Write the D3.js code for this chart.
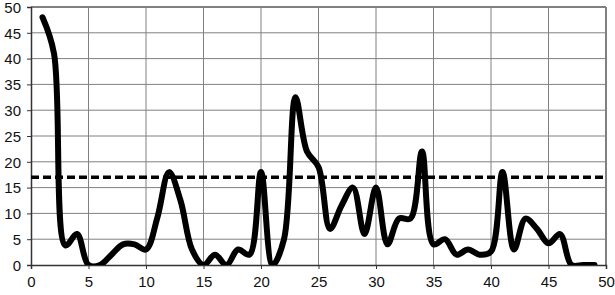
<!DOCTYPE html>
<html>
<head>
<meta charset="utf-8">
<script src="https://cdn.jsdelivr.net/npm/d3@7"></script>
<style>
  body { margin: 0; background: #fff; }
  svg { display: block; font-family: "Liberation Sans", Arial, sans-serif; }
</style>
</head>
<body>
<svg id="chart"></svg>
<script>
// values
const xValues = [1, 2, 3, 4, 5, 6, 7, 8, 9, 10, 11, 12, 13, 14, 15, 16, 17, 18, 19, 20,
  21, 22, 23, 24, 25, 26, 27, 28, 29, 30, 31, 32, 33, 34, 35, 36, 37, 38, 39, 40,
  41, 42, 43, 44, 45, 46, 47, 48, 49];
const yValues = [48, 41, 3.8, 6, 0, 0, 2, 4, 4, 3, 9.3, 18, 12.5, 3, 0, 2, 0, 3, 2, 18,
  0, 5, 32.5, 22, 19, 7, 11.5, 15, 6, 15, 4, 9, 9, 22, 4, 5, 2, 3, 2, 2.6,
  18, 3, 9, 7, 4.2, 6, 0, 0, 0];
const thresholdValue = 17;
const xTicks = [0, 5, 10, 15, 20, 25, 30, 35, 40, 45, 50];
const yTicks = [0, 5, 10, 15, 20, 25, 30, 35, 40, 45, 50];

const width = 615, height = 295;
const margin = { top: 7, right: 9, bottom: 30, left: 31 };
const iwidth = width - margin.left - margin.right;
const iheight = height - margin.top - margin.bottom;

const svg = d3.select('#chart').attr('width', width).attr('height', height);

const x = d3.scaleLinear().domain([0, 50]).range([0, iwidth]);
const y = d3.scaleLinear().domain([0, 50]).range([iheight, 0]);

const g = svg.append('g').attr('transform', `translate(${margin.left},${margin.top})`);

svg.append('defs').append('clipPath').attr('id', 'plot-clip')
  .append('rect').attr('x', 0).attr('y', -4).attr('width', iwidth).attr('height', iheight + 4);

// gridlines
g.append('g').selectAll('line').data(xTicks.slice(1, -1)).enter().append('line')
  .attr('x1', d => x(d)).attr('x2', d => x(d))
  .attr('y1', 0).attr('y2', iheight)
  .attr('stroke', '#808080').attr('stroke-width', 1);
g.append('g').selectAll('line').data(yTicks.slice(1, -1)).enter().append('line')
  .attr('x1', 0).attr('x2', iwidth)
  .attr('y1', d => y(d)).attr('y2', d => y(d))
  .attr('stroke', '#808080').attr('stroke-width', 1);

// plot frame (top / right)
g.append('line').attr('x1', 0).attr('x2', iwidth).attr('y1', y(50)).attr('y2', y(50))
  .attr('stroke', '#808080').attr('stroke-width', 2);
g.append('line').attr('x1', x(50)).attr('x2', x(50)).attr('y1', 0).attr('y2', iheight)
  .attr('stroke', '#808080').attr('stroke-width', 2);

// axes
const xAxis = g.append('g')
  .attr('transform', `translate(0,${iheight})`)
  .call(d3.axisBottom(x).tickValues(xTicks).tickSize(4).tickPadding(7));
const yAxis = g.append('g')
  .call(d3.axisLeft(y).tickValues(yTicks).tickSize(4).tickPadding(6));
[xAxis, yAxis].forEach(a => {
  a.select('.domain').attr('stroke', '#333').attr('stroke-width', 1.5);
  a.selectAll('.tick line').attr('stroke', '#333');
  a.selectAll('.tick text').attr('fill', '#111')
    .style('font-size', '15px').style('font-family', '"Liberation Sans", Arial, sans-serif');
});
yAxis.selectAll('.tick text').attr('dy', '0.35em');

// threshold line
g.append('line')
  .attr('x1', x(0)).attr('x2', x(50))
  .attr('y1', y(thresholdValue)).attr('y2', y(thresholdValue))
  .attr('stroke', '#000').attr('stroke-width', 3.5)
  .attr('stroke-dasharray', '8,4');

// data line
const data = xValues.map((d, i) => ({ x: d, y: yValues[i] }));
const line = d3.line()
  .x(d => x(d.x))
  .y(d => y(d.y))
  .curve(d3.curveCatmullRom.alpha(0.5));

g.append('path')
  .datum(data)
  .attr('clip-path', 'url(#plot-clip)')
  .attr('fill', 'none')
  .attr('stroke', '#000')
  .attr('stroke-width', 6)
  .attr('stroke-linejoin', 'round')
  .attr('stroke-linecap', 'round')
  .attr('d', line);
</script>
</body>
</html>
